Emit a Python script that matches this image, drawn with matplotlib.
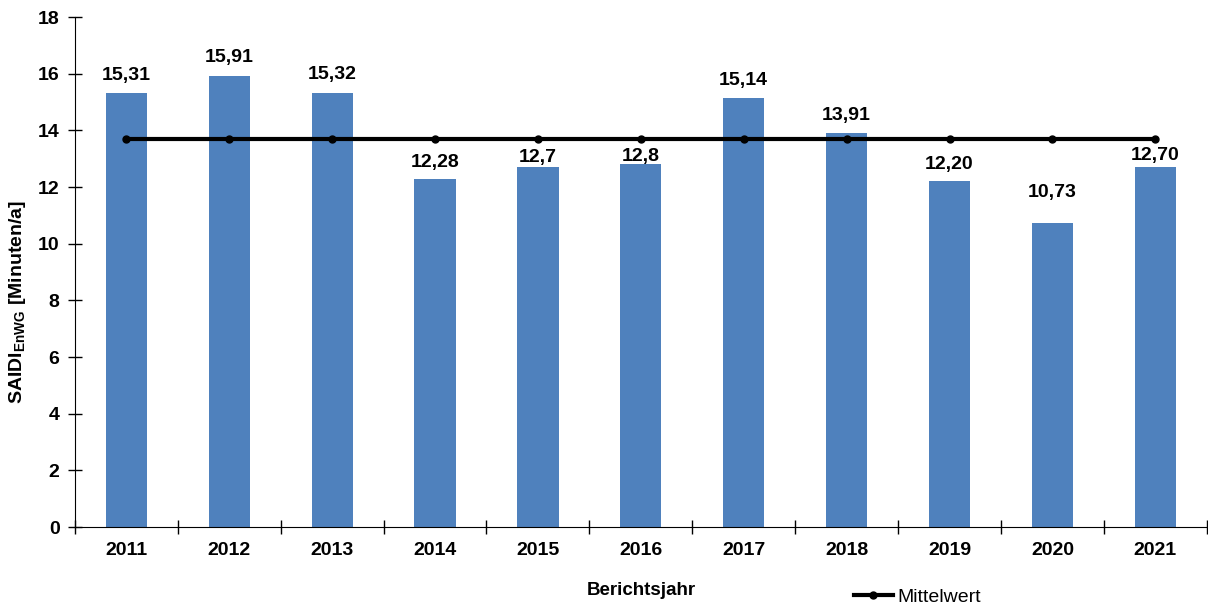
#! /usr/bin/env python3
# Bar chart of SAIDI (EnWG) per report year with mean line.

import matplotlib.pyplot as plt

plt.rcParams['font.family'] = ['Liberation Sans', 'DejaVu Sans']
plt.rcParams['mathtext.fontset'] = 'custom'
plt.rcParams['mathtext.rm'] = 'Liberation Sans'
plt.rcParams['mathtext.bf'] = 'Liberation Sans:bold'

years = ['2011', '2012', '2013', '2014', '2015', '2016', '2017', '2018', '2019', '2020', '2021']
saidi = [15.31, 15.91, 15.32, 12.28, 12.7, 12.8, 15.14, 13.91, 12.20, 10.73, 12.70]
value_labels = ['15,31', '15,91', '15,32', '12,28', '12,7', '12,8', '15,14', '13,91', '12,20', '10,73', '12,70']
mean_value = [13.7] * len(years)

# label offset above bar top (pixels)
label_offsets = [18, 19, 18, 17, 10, 8, 18, 17, 17, 31, 12]

fig = plt.figure(figsize=(12.08, 6.08), dpi=100)
ax = fig.add_axes([0.062, 0.133, 0.937, 0.839])

x = list(range(len(years)))
ax.bar(x, saidi, width=0.4, color='#4F81BD', zorder=2)
ax.plot(x, mean_value, color='black', lw=3, marker='o', ms=5, zorder=3, label='Mittelwert')

for xi, val, txt, off in zip(x, saidi, value_labels, label_offsets):
    ax.annotate(txt, (xi, val), xytext=(0, off * 0.72), textcoords='offset points',
                ha='center', va='center', fontsize=14, fontweight='bold', zorder=4)

ax.set_xlim(-0.5, len(years) - 0.5)
ax.set_ylim(0, 18)
ax.set_yticks(range(0, 19, 2))
ax.set_xticks(x)
ax.set_xticklabels(years)
ax.set_xticks([i - 0.5 for i in range(len(years) + 1)], minor=True)
ax.tick_params(axis='x', which='major', length=0, pad=11, labelsize=14)
ax.tick_params(axis='x', which='minor', direction='inout', length=10, width=1)
ax.tick_params(axis='y', direction='inout', length=10, width=1, pad=6, labelsize=14)
for lbl in ax.get_xticklabels() + ax.get_yticklabels():
    lbl.set_fontweight('bold')

for s in ['top', 'right']:
    ax.spines[s].set_visible(False)

ax.set_xlabel('Berichtsjahr', fontsize=13.5, fontweight='bold', labelpad=16)
ax.set_ylabel(r'SAIDI$_{\mathbf{EnWG}}$ [Minuten/a]', fontsize=14, fontweight='bold')
ax.yaxis.set_label_coords(-0.0415, 0.441)

ax.legend(loc='center left', bbox_to_anchor=(854 / 1208, 1 - 597 / 608), bbox_transform=fig.transFigure,
          frameon=False, fontsize=14, handlelength=2.0, handletextpad=0.25, borderaxespad=0, borderpad=0)

fig.savefig('out.png', dpi=100)
